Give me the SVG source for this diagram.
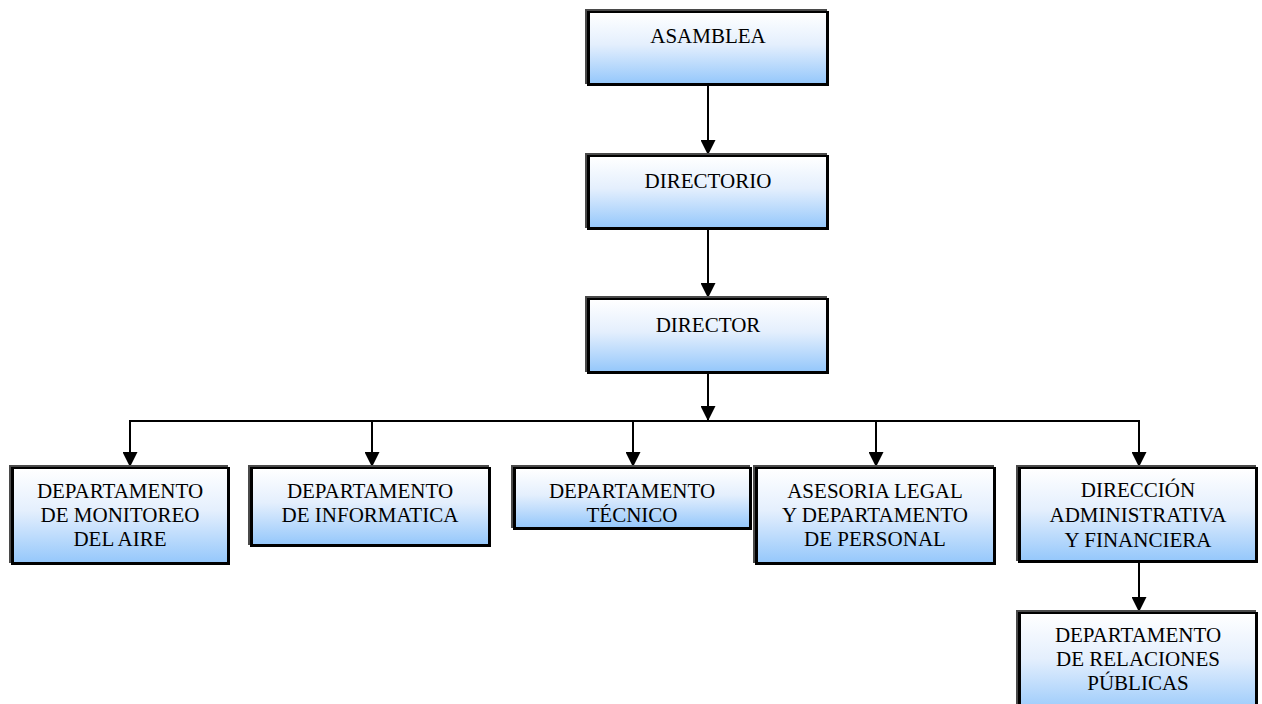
<svg xmlns="http://www.w3.org/2000/svg" width="1262" height="704" viewBox="0 0 1262 704">
<defs>
<linearGradient id="g" x1="0" y1="0" x2="0" y2="1">
<stop offset="0" stop-color="#ffffff"/>
<stop offset="0.45" stop-color="#e4effd"/>
<stop offset="1" stop-color="#96c8fb"/>
</linearGradient>
<marker id="ah" markerWidth="15" markerHeight="15" refX="15" refY="7.5" orient="auto" markerUnits="userSpaceOnUse">
<path d="M0,0 L15,7.5 L0,15 Z" fill="#000"/>
</marker>
<style>
.sh{fill:#4a4a4a}
.bx{fill:#000}
.fl{fill:url(#g)}
text{font-family:"Liberation Serif","Times New Roman",serif;font-size:21px;fill:#000;text-anchor:middle}
.c{stroke:#000;stroke-width:2;fill:none}
</style>
</defs>
<g id="connectors">
<line class="c" x1="708" y1="86" x2="708" y2="155" marker-end="url(#ah)"/>
<line class="c" x1="708" y1="230" x2="708" y2="298" marker-end="url(#ah)"/>
<line class="c" x1="708" y1="374" x2="708" y2="421" marker-end="url(#ah)"/>
<polyline class="c" points="130,467 130,421 1139,421 1139,467" marker-end="url(#ah)"/>
<line class="c" x1="130" y1="421" x2="130" y2="467" marker-end="url(#ah)"/>
<line class="c" x1="372" y1="421" x2="372" y2="467" marker-end="url(#ah)"/>
<line class="c" x1="633" y1="421" x2="633" y2="467" marker-end="url(#ah)"/>
<line class="c" x1="876" y1="421" x2="876" y2="467" marker-end="url(#ah)"/>
<line class="c" x1="1139" y1="563" x2="1139" y2="612" marker-end="url(#ah)"/>
</g>
<g id="asamblea">
<rect class="sh" x="585" y="9" width="242" height="75"/>
<rect class="bx" x="587" y="11" width="242" height="75"/>
<rect class="fl" x="590" y="13" width="236" height="70"/>
<text x="708" y="43">ASAMBLEA</text>
</g>
<g id="directorio">
<rect class="sh" x="585" y="153" width="242" height="75"/>
<rect class="bx" x="587" y="155" width="242" height="75"/>
<rect class="fl" x="590" y="157" width="236" height="70"/>
<text x="708" y="188">DIRECTORIO</text>
</g>
<g id="director">
<rect class="sh" x="585" y="296" width="242" height="76"/>
<rect class="bx" x="587" y="298" width="242" height="76"/>
<rect class="fl" x="590" y="300" width="236" height="71"/>
<text x="708" y="332">DIRECTOR</text>
</g>
<g id="monitoreo">
<rect class="sh" x="9" y="465" width="219" height="98"/>
<rect class="bx" x="11" y="467" width="219" height="98"/>
<rect class="fl" x="14" y="469" width="213" height="93"/>
<text x="120" y="498">DEPARTAMENTO</text>
<text x="120" y="522">DE MONITOREO</text>
<text x="120" y="546">DEL AIRE</text>
</g>
<g id="informatica">
<rect class="sh" x="248" y="465" width="241" height="80"/>
<rect class="bx" x="250" y="467" width="241" height="80"/>
<rect class="fl" x="253" y="469" width="235" height="75"/>
<text x="370" y="498">DEPARTAMENTO</text>
<text x="370" y="522">DE INFORMATICA</text>
</g>
<g id="tecnico">
<rect class="sh" x="511" y="465" width="239" height="63"/>
<rect class="bx" x="513" y="467" width="239" height="63"/>
<rect class="fl" x="516" y="469" width="233" height="58"/>
<text x="632" y="498">DEPARTAMENTO</text>
<text x="632" y="522">TÉCNICO</text>
</g>
<g id="asesoria">
<rect class="sh" x="753" y="465" width="241" height="98"/>
<rect class="bx" x="755" y="467" width="241" height="98"/>
<rect class="fl" x="758" y="469" width="235" height="93"/>
<text x="875" y="498">ASESORIA LEGAL</text>
<text x="875" y="522">Y DEPARTAMENTO</text>
<text x="875" y="546">DE PERSONAL</text>
</g>
<g id="direccion">
<rect class="sh" x="1016" y="465" width="240" height="96"/>
<rect class="bx" x="1018" y="467" width="240" height="96"/>
<rect class="fl" x="1021" y="469" width="234" height="91"/>
<text x="1138" y="497">DIRECCIÓN</text>
<text x="1138" y="522">ADMINISTRATIVA</text>
<text x="1138" y="547">Y FINANCIERA</text>
</g>
<g id="relaciones">
<rect class="sh" x="1016" y="610" width="240" height="100"/>
<rect class="bx" x="1018" y="612" width="240" height="100"/>
<rect class="fl" x="1021" y="614" width="234" height="100"/>
<text x="1138" y="642">DEPARTAMENTO</text>
<text x="1138" y="666">DE RELACIONES</text>
<text x="1138" y="690">PÚBLICAS</text>
</g>
</svg>
